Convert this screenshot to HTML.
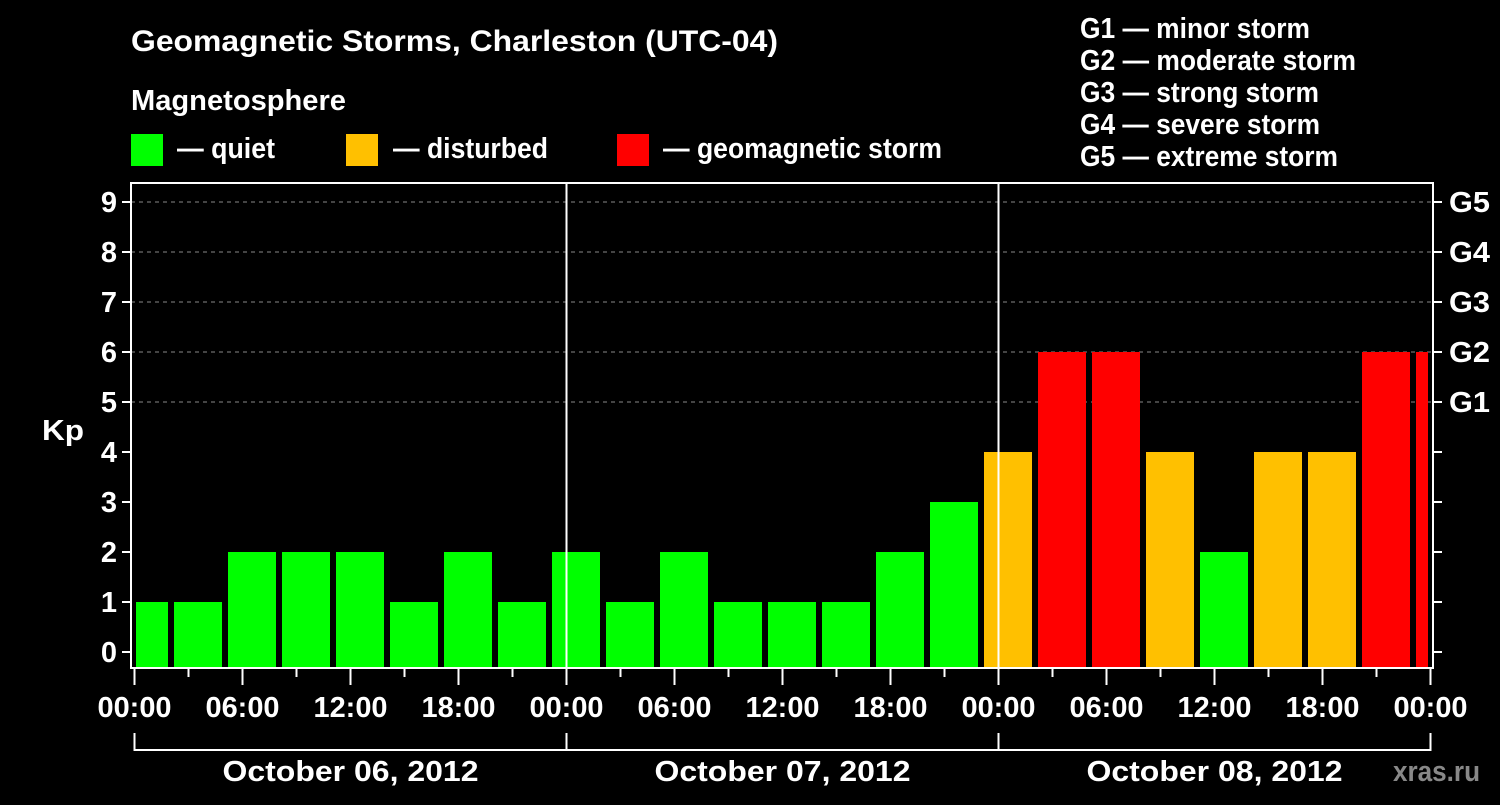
<!DOCTYPE html>
<html><head><meta charset="utf-8"><style>
body{margin:0;background:#000;width:1500px;height:800px;overflow:hidden}
svg text{font-family:"Liberation Sans",Arial,sans-serif;font-weight:bold;fill:#fff}
</style></head><body>
<svg id="c" width="1500" height="800" xmlns="http://www.w3.org/2000/svg">
<text x="131" y="51" font-size="30" textLength="647" lengthAdjust="spacingAndGlyphs">Geomagnetic Storms, Charleston (UTC-04)</text>
<text x="131" y="110" font-size="29" textLength="215" lengthAdjust="spacingAndGlyphs">Magnetosphere</text>
<g><rect x="131" y="134" width="32" height="32" fill="#00ff00"/><text x="177" y="158" font-size="29" textLength="98" lengthAdjust="spacingAndGlyphs">— quiet</text></g>
<g><rect x="346" y="134" width="32" height="32" fill="#ffc000"/><text x="393" y="158" font-size="29" textLength="155" lengthAdjust="spacingAndGlyphs">— disturbed</text></g>
<g><rect x="617" y="134" width="32" height="32" fill="#ff0000"/><text x="663" y="158" font-size="29" textLength="279" lengthAdjust="spacingAndGlyphs">— geomagnetic storm</text></g>
<g font-size="29">
<text x="1080" y="38" textLength="230" lengthAdjust="spacingAndGlyphs">G1 — minor storm</text>
<text x="1080" y="70" textLength="276" lengthAdjust="spacingAndGlyphs">G2 — moderate storm</text>
<text x="1080" y="102" textLength="239" lengthAdjust="spacingAndGlyphs">G3 — strong storm</text>
<text x="1080" y="134" textLength="240" lengthAdjust="spacingAndGlyphs">G4 — severe storm</text>
<text x="1080" y="166" textLength="258" lengthAdjust="spacingAndGlyphs">G5 — extreme storm</text>
</g>
<text x="42" y="440" font-size="29" textLength="42" lengthAdjust="spacingAndGlyphs">Kp</text>
<text x="1393" y="781" font-size="29" textLength="87" lengthAdjust="spacingAndGlyphs" style="fill:#888">xras.ru</text>
</svg>
<script>
const kpValues=[1,1,2,2,2,1,2,1,2,1,2,1,1,1,2,3,4,6,6,4,2,4,4,6,6];
const yTicks=[0,1,2,3,4,5,6,7,8,9];
const gLabels=["G1","G2","G3","G4","G5"];
const xTickLabels=["00:00","06:00","12:00","18:00","00:00","06:00","12:00","18:00","00:00","06:00","12:00","18:00","00:00"];
const dayLabels=["October 06, 2012","October 07, 2012","October 08, 2012"];
const NS="http://www.w3.org/2000/svg";
const svg=document.getElementById('c');
const L=131,R=1433,T=183,B=668,X0=134.5,PH=18;
const y=v=>652-50*v;
const x=h=>X0+PH*h;
function mk(tag,attrs,parent){const e=document.createElementNS(NS,tag);for(const k in attrs)e.setAttribute(k,attrs[k]);(parent||svg).appendChild(e);return e;}
for(let v=5;v<=9;v++){const g=mk('line',{x1:L,x2:R,y1:y(v),y2:y(v),stroke:'#888','stroke-dasharray':'4,4','stroke-width':1});

}
kpValues.forEach((v,i)=>{
 const s=x(-1+3*i),e=x(2+3*i);
 const x1=Math.max(s+3.5,L+5),x2=Math.min(e-2.5,R-5);
 const col=v>=5?'#ff0000':(v>=4?'#ffc000':'#00ff00');
 const r=mk('rect',{x:x1,y:y(v),width:x2-x1,height:B-y(v),fill:col});
 
 
});
for(let d=1;d<=2;d++){const l=mk('line',{x1:x(24*d),x2:x(24*d),y1:T,y2:B,stroke:'#fff','stroke-width':2});

}
const f=mk('rect',{x:L,y:T,width:R-L,height:B-T,fill:'none',stroke:'#fff','stroke-width':2});


yTicks.forEach(v=>{
 mk('line',{x1:L-9,x2:L,y1:y(v),y2:y(v),stroke:'#fff','stroke-width':2});
 mk('line',{x1:R,x2:R+9,y1:y(v),y2:y(v),stroke:'#fff','stroke-width':2});
 const t=mk('text',{x:117,y:y(v)+10,'font-size':29,'text-anchor':'end'});t.textContent=v;
 
 
});
gLabels.forEach((g,i)=>{const t=mk('text',{x:1449,y:y(5+i)+10,'font-size':29,textLength:41,lengthAdjust:'spacingAndGlyphs'});t.textContent=g;
 
 });
for(let h=0;h<=72;h+=3){const maj=h%6===0;mk('line',{x1:x(h),x2:x(h),y1:B,y2:B+(maj?17:9),stroke:'#fff','stroke-width':2});}
xTickLabels.forEach((s,i)=>{const t=mk('text',{x:x(6*i),y:717,'font-size':29,'text-anchor':'middle',textLength:74,lengthAdjust:'spacingAndGlyphs'});t.textContent=s;
 
 });
mk('line',{x1:x(0),x2:x(72),y1:750,y2:750,stroke:'#fff','stroke-width':2});
for(let d=0;d<=3;d++)mk('line',{x1:x(24*d),x2:x(24*d),y1:733,y2:751,stroke:'#fff','stroke-width':2});
dayLabels.forEach((s,i)=>{const t=mk('text',{x:x(24*i+12),y:781,'font-size':29,'text-anchor':'middle',textLength:256,lengthAdjust:'spacingAndGlyphs'});t.textContent=s;
 
 });
</script>
</body></html>
